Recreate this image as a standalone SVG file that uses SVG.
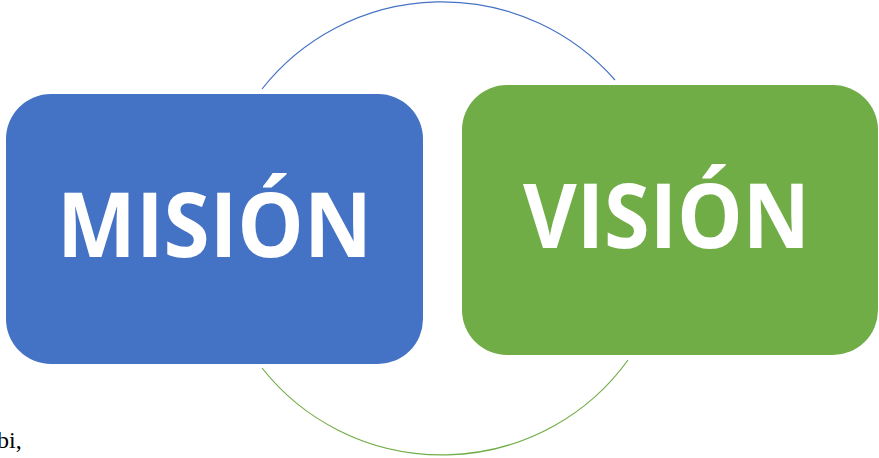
<svg xmlns="http://www.w3.org/2000/svg" width="879" height="458" viewBox="0 0 879 458">
<style>
.lbl{font-family:"Open Sans","Liberation Sans",sans-serif;font-weight:bold;font-size:90px;fill:#FFFFFF;text-anchor:start}
.arc{fill:none;stroke-width:1.2}
</style>
<rect width="879" height="458" fill="#FFFFFF"/>
<g id="connectors">
<path class="arc" stroke="#4472C4" d="M262,89 A228,225 0 0 1 615,80"/>
<path class="arc" stroke="#70AD47" d="M262,368 A228,225 0 0 0 628,360"/>
</g>
<g id="mision">
<rect x="6" y="94" width="417" height="270" rx="45" ry="45" fill="#4472C4"/>
<text class="lbl" x="57" y="257" textLength="315" lengthAdjust="spacingAndGlyphs">MISIÓN</text>
</g>
<g id="vision">
<rect x="462" y="85" width="416" height="270" rx="45" ry="45" fill="#70AD47"/>
<text class="lbl" x="523" y="248" textLength="287" lengthAdjust="spacingAndGlyphs">VISIÓN</text>
</g>
<text x="-3" y="448" font-family="Liberation Serif, serif" font-size="24" fill="#000000">bi,</text>
</svg>
